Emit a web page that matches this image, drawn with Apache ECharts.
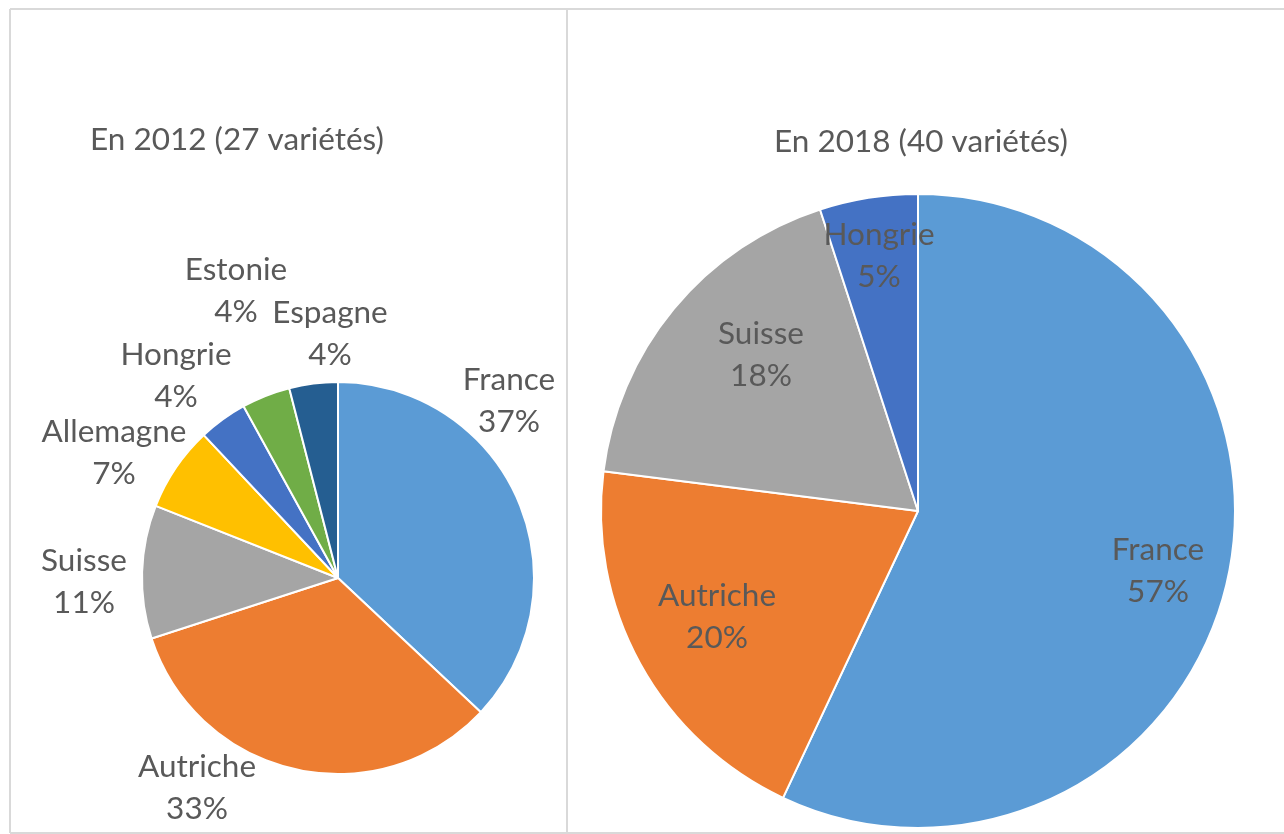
<!DOCTYPE html>
<html>
<head>
<meta charset="utf-8">
<script src="https://cdn.jsdelivr.net/npm/echarts@6/dist/echarts.min.js"></script>
<style>
html,body{margin:0;padding:0;background:#fff;}
#chart{width:1284px;height:834px;}
</style>
</head>
<body>
<div id="chart"></div>
<script>
// ---- data ----
const titles = ['En 2012 (27 variétés)', 'En 2018 (40 variétés)'];
const categories2012 = ['France', 'Autriche', 'Suisse', 'Allemagne', 'Hongrie', 'Estonie', 'Espagne'];
const values2012 = [37, 33, 11, 7, 4, 4, 4];
const categories2018 = ['France', 'Autriche', 'Suisse', 'Hongrie'];
const values2018 = [57, 20, 18, 5];
const colorsByCountry = {
  'France': '#5B9BD5', 'Autriche': '#ED7D31', 'Suisse': '#A5A5A5', 'Allemagne': '#FFC000',
  'Hongrie': '#4472C4', 'Estonie': '#70AD47', 'Espagne': '#255E91'
};

// ---- layout (pixels) ----
const FONT = 'Lato, "Open Sans", sans-serif';
const TEXT_COLOR = '#595959';
const FS = 31.5;
const LH = 42;
const pies = [
  { center: [338, 578], radius: 196,
    // label block centre offsets relative to pie centre
    labelOffsets: [[171, -177], [-141, 210], [-254, 4], [-224, -125], [-162, -202], [-102, -287], [-8, -244]] },
  { center: [918, 511], radius: 317,
    labelOffsets: [[240, 60], [-201, 106], [-157, -156], [-39, -255]] }
];

function buildData(cats, vals) {
  return cats.map((c, i) => ({ name: c, value: vals[i], itemStyle: { color: colorsByCountry[c] } }));
}

function makeSeries(idx, cats, vals) {
  const p = pies[idx];
  return {
    type: 'pie',
    center: p.center,
    radius: p.radius,
    startAngle: 90,
    clockwise: true,
    animation: false,
    silent: true,
    data: buildData(cats, vals),
    itemStyle: { borderColor: '#ffffff', borderWidth: 2 },
    label: {
      show: true,
      position: 'inside',
      formatter: (prm) => prm.name + '\n' + prm.value + '%',
      color: TEXT_COLOR,
      fontFamily: FONT,
      fontSize: FS,
      lineHeight: LH,
      align: 'center',
      overflow: 'none'
    },
    labelLine: { show: false },
    labelLayout: function (prm) {
      const off = p.labelOffsets[prm.dataIndex];
      return {
        x: p.center[0] + off[0],
        y: p.center[1] + off[1],
        align: 'center',
        verticalAlign: 'middle',
        hideOverlap: false
      };
    }
  };
}

const chart = echarts.init(document.getElementById('chart'), null, { renderer: 'canvas' });
const border = '#d9d9d9';
chart.setOption({
  backgroundColor: '#ffffff',
  animation: false,
  graphic: [
    { type: 'line', shape: { x1: 10, y1: 9, x2: 1284, y2: 9 }, style: { stroke: border, lineWidth: 2 } },
    { type: 'line', shape: { x1: 10, y1: 9, x2: 10, y2: 833 }, style: { stroke: border, lineWidth: 2 } },
    { type: 'line', shape: { x1: 567, y1: 9, x2: 567, y2: 833 }, style: { stroke: border, lineWidth: 2 } },
    { type: 'line', shape: { x1: 10, y1: 833, x2: 1284, y2: 833 }, style: { stroke: border, lineWidth: 2 } },
    { type: 'text', x: 237, y: 140, style: { text: titles[0], fill: TEXT_COLOR, font: FS + 'px ' + FONT, textAlign: 'center', textVerticalAlign: 'middle' } },
    { type: 'text', x: 921, y: 142, style: { text: titles[1], fill: TEXT_COLOR, font: FS + 'px ' + FONT, textAlign: 'center', textVerticalAlign: 'middle' } }
  ],
  series: [
    makeSeries(0, categories2012, values2012),
    makeSeries(1, categories2018, values2018)
  ]
});
</script>
</body>
</html>
